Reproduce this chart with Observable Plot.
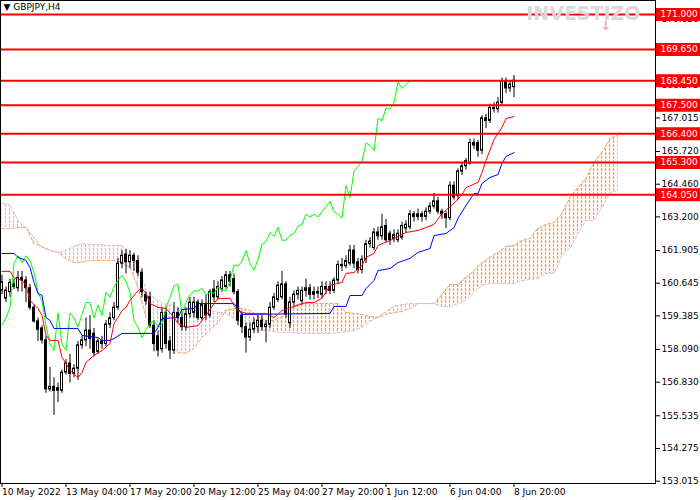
<!DOCTYPE html>
<html>
<head>
<meta charset="utf-8">
<script src="https://cdn.jsdelivr.net/npm/d3@7"></script>
<script src="https://cdn.jsdelivr.net/npm/@observablehq/plot@0.6"></script>
<style>
  body { margin: 0; background: #fff; }
  #chart svg { display: block; }
</style>
</head>
<body>
<div id="chart"></div>
<script>
// ---------- DATA (GBPJPY, H4) ----------
const title = "▼ GBPJPY,H4";

const open = [160.36,160.05,160.30,160.60,160.45,160.85,160.75,160.45,159.70,159.17,
158.90,158.44,156.55,156.65,156.50,156.50,157.20,157.55,157.15,157.35,
158.25,158.44,158.82,158.70,158.00,158.40,158.30,159.05,159.30,159.70,
161.40,161.75,161.45,161.70,161.50,161.05,160.20,160.10,159.00,158.60,
158.10,159.50,158.40,158.05,159.50,159.30,158.95,159.45,159.50,159.90,
159.30,159.80,159.40,160.40,160.10,160.40,160.50,160.95,160.80,160.30,
159.40,158.95,158.55,158.85,158.95,159.20,158.95,159.05,159.70,160.00,
160.10,160.60,159.10,159.90,160.20,159.95,160.35,160.45,160.20,160.30,
160.20,160.50,160.50,160.35,160.75,161.35,161.30,161.40,161.90,161.45,
161.15,161.55,162.15,162.00,162.60,162.45,162.85,162.55,162.35,162.30,
162.40,162.75,162.80,163.30,163.20,163.30,163.20,163.40,163.60,163.80,
163.40,163.30,163.15,164.40,164.00,164.95,165.15,165.25,166.05,166.05,
165.75,167.00,166.90,167.40,167.35,167.60,168.40,168.15,168.20];

const high = [160.95,160.50,160.80,160.80,161.10,161.10,160.90,160.60,159.80,159.30,
159.00,158.60,157.40,157.00,156.80,157.30,157.70,157.90,157.50,158.40,
158.60,159.30,159.40,158.90,158.50,158.60,159.20,159.50,159.90,161.60,
161.90,161.95,161.90,161.80,161.70,161.20,160.30,160.30,159.20,158.80,
159.70,159.70,158.60,159.90,159.70,159.50,159.70,160.10,160.10,160.00,
160.00,160.20,160.40,160.75,160.70,160.90,161.10,161.10,161.00,160.40,
159.50,159.10,159.10,159.30,159.40,159.40,159.20,159.90,160.25,160.70,
161.10,160.70,160.10,160.35,160.50,160.50,160.80,160.60,160.50,160.50,
160.70,160.70,160.70,160.85,161.50,161.60,161.70,162.10,162.10,161.60,
161.70,162.30,162.40,162.75,162.80,163.30,163.10,162.65,162.70,162.70,
163.00,163.05,163.45,163.40,163.50,163.40,163.55,163.75,164.10,163.95,
163.50,163.40,164.55,164.55,165.05,165.30,165.45,166.20,166.20,166.15,
167.10,167.15,167.55,167.60,167.80,168.55,168.55,168.45,168.65];

const low = [160.20,159.90,160.10,160.40,160.30,160.30,159.90,159.60,159.10,158.40,
158.30,156.40,156.45,155.55,156.05,156.40,157.10,156.80,157.00,156.90,
158.10,158.20,158.10,157.80,157.90,158.10,158.20,158.90,159.20,159.60,
161.20,161.00,161.20,161.10,160.90,160.10,159.80,158.90,158.00,157.80,
157.95,158.10,157.70,157.90,159.10,158.80,158.80,159.30,159.30,159.20,
159.20,159.20,159.30,159.90,160.00,160.30,160.40,160.50,160.20,159.00,
158.70,157.95,158.40,158.70,158.70,158.80,158.35,158.90,159.60,159.90,
160.00,159.30,158.90,159.70,160.00,159.80,160.10,160.00,160.00,160.05,
160.05,160.20,160.20,160.25,160.60,161.10,161.20,161.30,161.20,161.00,
161.00,161.40,162.00,161.90,162.30,162.30,162.20,162.10,162.20,162.20,
162.30,162.60,162.70,163.00,163.05,163.00,163.05,163.30,163.50,163.30,
163.10,162.75,163.05,163.85,163.85,164.80,165.00,165.20,165.80,165.50,
165.60,166.60,166.80,167.20,167.20,167.50,167.95,168.00,167.80];

const close = [160.68,160.36,160.66,160.50,160.85,160.75,160.45,159.70,159.17,158.85,
158.44,156.55,156.65,156.50,156.60,157.20,157.55,157.15,157.35,158.25,
158.44,158.82,158.50,157.95,158.40,158.30,159.05,159.30,159.70,161.40,
161.70,161.45,161.70,161.50,161.05,160.30,159.95,159.00,158.30,158.05,
159.50,158.30,158.05,159.50,159.30,158.95,159.45,159.90,159.90,159.30,
159.80,159.40,160.30,160.10,160.50,160.75,160.95,160.70,160.30,159.20,
158.95,158.55,158.85,159.10,159.20,158.95,159.05,159.70,160.10,160.55,
160.60,159.45,159.90,160.20,160.35,160.35,160.45,160.20,160.30,160.25,
160.50,160.40,160.35,160.75,161.35,161.30,161.50,161.90,161.40,161.15,
161.55,162.15,162.25,162.60,162.45,162.80,162.30,162.30,162.50,162.55,
162.85,162.90,163.30,163.20,163.30,163.20,163.40,163.60,163.80,163.40,
163.30,163.15,164.40,163.95,164.95,165.15,165.35,166.05,165.95,165.75,
167.00,166.90,167.40,167.35,167.60,168.40,168.15,168.30,168.45];

// Ichimoku Tenkan-sen (red) read at break points: bar index -> price
const tenkanBars = [0,2,3,5,6,7,9,10,11,12,14,15,16,17,19,20,21,23,25,27,28,29,30,31,32,34,35,36,37,39,41,43,44,46,49,51,53,54,57,58,59,61,66,68,70,76,78,80,81,82,85,86,88,90,91,93,94,97,101,104,106,108,110,113,115,116,119,120,121,123,125,126,128];
const tenkanVals = [161.10,161.10,160.86,160.75,160.56,159.98,159.67,159.40,158.63,158.44,158.44,157.78,157.55,157.28,157.01,157.20,157.59,157.86,158.05,158.32,159.09,159.32,159.59,159.71,159.98,160.36,160.44,160.25,159.86,159.71,159.67,159.32,159.09,158.94,159.01,159.40,159.86,160.06,160.06,159.79,159.59,159.48,159.48,159.32,159.59,159.90,159.90,160.06,160.29,160.56,160.67,161.02,161.06,161.33,161.64,161.79,162.10,162.29,162.60,162.68,162.79,162.91,163.33,163.72,164.06,164.33,164.53,164.91,165.37,166.18,166.65,166.99,167.07];

// Kijun-sen (blue)
const kijunBars = [0,3,4,6,7,8,9,10,11,12,13,19,20,24,25,27,28,30,38,39,40,44,45,48,49,58,59,60,82,83,86,87,90,91,93,94,97,99,102,104,107,108,111,113,114,116,118,119,120,122,124,125,126,128];
const kijunVals = [161.79,161.79,161.64,161.52,161.25,160.67,160.25,160.17,159.32,159.21,158.90,158.90,158.63,158.55,158.44,158.44,158.51,158.71,158.71,158.94,159.28,159.32,159.63,159.67,159.86,159.86,159.67,159.44,159.48,159.75,159.75,160.17,160.17,160.44,160.75,161.13,161.21,161.44,161.60,161.83,161.98,162.48,162.56,162.79,163.14,163.64,164.10,164.10,164.49,164.72,164.83,165.26,165.53,165.68];

// Chikou span (lime) = closes plotted 26 bars back
const chikouShift = 26;

// Senkou spans (cloud), bar index -> price
const cloudBars = [0,2,4,6,8,10,12,14,16,18,20,22,24,26,28,30,32,34,36,38,40,42,44,46,48,50,52,54,56,58,60,62,64,66,68,70,72,74,76,78,80,82,84,86,88,90,92,94,96,98,100,102,104,106,108,110,112,114,116,118,120,122,124,126,128,130,132,134,136,138,140,142,144,146,148,150,152,154];
const spanA = [162.75,162.75,162.79,162.79,162.17,162.06,161.91,161.83,161.60,161.44,
161.44,161.52,161.52,161.52,161.52,161.44,161.25,160.48,159.32,159.01,
158.71,158.32,157.97,157.94,158.13,158.55,158.82,159.13,159.59,159.67,
159.67,159.59,159.36,159.21,159.21,159.36,159.59,159.86,159.86,159.86,
159.86,159.86,159.86,159.52,159.48,159.44,159.36,159.32,159.44,159.52,
159.55,159.67,159.86,159.86,159.86,160.21,160.59,160.59,160.86,161.13,
161.44,161.64,161.83,162.06,162.10,162.29,162.37,162.75,162.91,162.98,
163.33,163.95,164.33,164.68,165.30,165.68,166.22,166.34];
const spanB = [163.72,163.68,163.06,162.79,162.41,162.02,161.91,161.83,161.91,162.06,
162.17,162.14,162.14,162.10,162.10,162.10,161.67,161.40,160.36,160.09,
159.86,159.82,159.67,159.63,159.59,159.67,159.59,159.52,159.48,159.28,
159.17,159.05,158.82,158.82,158.78,158.74,158.74,158.71,158.71,158.71,
158.71,158.71,158.74,158.78,158.82,158.94,159.17,159.34,159.55,159.75,
159.82,159.86,159.86,159.86,159.86,159.75,159.75,159.86,159.98,160.29,
160.56,160.63,160.63,160.63,160.63,160.75,160.79,160.83,161.02,161.02,
161.71,161.98,162.56,163.06,163.06,163.56,164.14,164.22];

// Horizontal levels
const levels = [171.000, 169.650, 168.450, 167.500, 166.400, 165.300, 164.050];

// Axis ticks
const priceTicks = [153.015,154.275,155.535,156.830,158.090,159.385,160.645,161.905,163.200,164.460,165.720,167.015,168.275,169.555,170.830];
const dateTicks = [0,16,32,48,64,80,96,112,128];
const dateLabels = ["10 May 2022","13 May 04:00","17 May 20:00","20 May 12:00","25 May 04:00","27 May 20:00","1 Jun 12:00","6 Jun 04:00","8 Jun 20:00"];

// ---------- TABLES ----------
const candles = open.map((o, i) => ({i, o, h: high[i], l: low[i], c: close[i]}));
const bull = candles.filter(d => d.c >= d.o);
const bear = candles.filter(d => d.c < d.o);
const tenkan = tenkanBars.map((b, k) => ({i: b, v: tenkanVals[k]}));
const kijun = kijunBars.map((b, k) => ({i: b, v: kijunVals[k]}));
const chikou = close.slice(chikouShift).map((v, k) => ({i: k, v}));
const cloud = cloudBars.map((b, k) => ({i: b, a: spanA[k], b: spanB[k]}));

const X_DOMAIN = [-0.375, 163.375];
const Y_DOMAIN = [152.925, 171.54];

const plot = Plot.plot({
  width: 700,
  height: 500,
  marginLeft: 0,
  marginRight: 45,
  marginTop: 0,
  marginBottom: 17,
  x: {domain: X_DOMAIN, axis: null},
  y: {domain: Y_DOMAIN, axis: null},
  style: {fontFamily: "DejaVu Sans", fontSize: "9px", background: "white", color: "black", overflow: "visible"},
  marks: [
    Plot.areaY(cloud, {x: "i", y1: "b", y2: d => Math.max(d.a, d.b), fill: "url(#hatchA)"}),
    Plot.areaY(cloud, {x: "i", y1: "a", y2: d => Math.max(d.a, d.b), fill: "url(#hatchB)"}),
    Plot.line(cloud, {x: "i", y: "a", stroke: "#f4a460", strokeWidth: 1, strokeDasharray: "3,2"}),
    Plot.line(cloud, {x: "i", y: "b", stroke: "#d8bfd8", strokeWidth: 1, strokeDasharray: "3,2"}),
    Plot.ruleX(candles, {x: "i", y1: "l", y2: "h", stroke: "black", strokeWidth: 1}),
    Plot.rect(bull, {x1: d => d.i - 0.25, x2: d => d.i + 0.25, y1: "o", y2: "c", fill: "white", stroke: "black", strokeWidth: 1}),
    Plot.rect(bear, {x1: d => d.i - 0.25, x2: d => d.i + 0.25, y1: "o", y2: "c", fill: "black", stroke: "black", strokeWidth: 1}),
    Plot.line(chikou, {x: "i", y: "v", stroke: "#00ff00", strokeWidth: 1}),
    Plot.line(kijun, {x: "i", y: "v", stroke: "#0000ff", strokeWidth: 1}),
    Plot.line(tenkan, {x: "i", y: "v", stroke: "#ff0000", strokeWidth: 1}),
    Plot.ruleY(levels, {y: d => d, stroke: "#ff0000", strokeWidth: 2}),
    Plot.frame({stroke: "black"}),
    Plot.axisX(dateTicks, {anchor: "bottom", tickSize: 4, tickPadding: 1, textAnchor: "start",
      tickFormat: d => dateLabels[dateTicks.indexOf(d)], label: null, fill: "black"}),
    Plot.axisY(priceTicks, {anchor: "right", tickSize: 4, tickPadding: 2,
      tickFormat: d => d.toFixed(3), label: null, fill: "black"}),
    Plot.ruleY(levels, {y: d => d, x1: X_DOMAIN[1] + 0.25, x2: X_DOMAIN[1] + 11.25, stroke: "#ff0000", strokeWidth: 13}),
    Plot.text(levels, {y: d => d, x: X_DOMAIN[1], dx: 5, text: d => d.toFixed(3), textAnchor: "start", fill: "white"}),
    Plot.text([title], {frameAnchor: "top-left", dx: 3, dy: 3, fill: "black"}),
    Plot.text(["INVESTIZO"], {frameAnchor: "top-right", dx: -15, dy: 6, fontSize: 19, fontWeight: "bold", fill: "#dadada"}),
    Plot.text(["↓"], {frameAnchor: "top-right", dx: -44, dy: 20, fontSize: 13, fontWeight: "bold", fill: "#f2a6b8"})
  ]
});

// hatch patterns for the cloud (vertical dotted strokes, one per bar)
const defs = d3.select(plot).insert("defs", ":first-child");
[["hatchA", "#f4a460"], ["hatchB", "#d8bfd8"]].forEach(([id, col]) => {
  const p = defs.append("pattern").attr("id", id).attr("patternUnits", "userSpaceOnUse")
    .attr("x", 0).attr("y", 0).attr("width", 4).attr("height", 4);
  p.append("line").attr("x1", 1.5).attr("x2", 1.5).attr("y1", 0).attr("y2", 3)
    .attr("style", `stroke:${col};stroke-width:1.3;fill:none`);
});

document.getElementById("chart").appendChild(plot);
</script>
</body>
</html>
